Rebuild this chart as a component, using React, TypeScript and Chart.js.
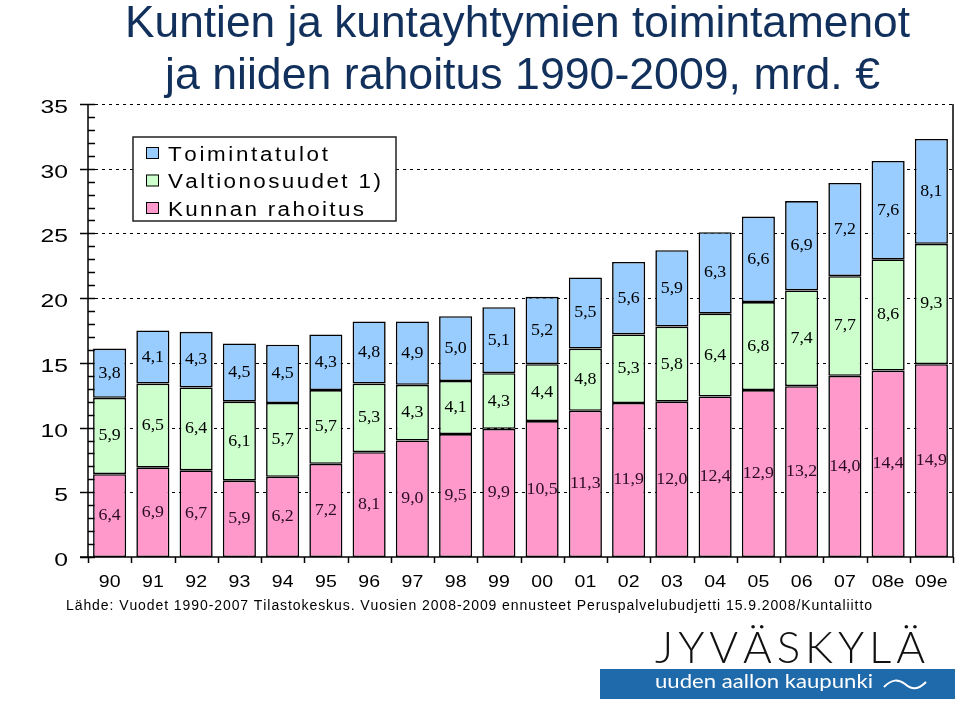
import React, { useEffect, useRef } from 'react';
import { Chart, registerables } from 'chart.js';

Chart.register(...registerables);

const categories = ['90', '91', '92', '93', '94', '95', '96', '97', '98', '99', '00', '01', '02', '03', '04', '05', '06', '07', '08e', '09e'];
const kunnanRahoitus = [6.4, 6.9, 6.7, 5.9, 6.2, 7.2, 8.1, 9.0, 9.5, 9.9, 10.5, 11.3, 11.9, 12.0, 12.4, 12.9, 13.2, 14.0, 14.4, 14.9];
const valtionosuudet = [5.9, 6.5, 6.4, 6.1, 5.7, 5.7, 5.3, 4.3, 4.1, 4.3, 4.4, 4.8, 5.3, 5.8, 6.4, 6.8, 7.4, 7.7, 8.6, 9.3];
const toimintatulot = [3.8, 4.1, 4.3, 4.5, 4.5, 4.3, 4.8, 4.9, 5.0, 5.1, 5.2, 5.5, 5.6, 5.9, 6.3, 6.6, 6.9, 7.2, 7.6, 8.1];
const seriesNames = ['Kunnan rahoitus', 'Valtionosuudet 1)', 'Toimintatulot'];
const seriesColors = ['#FF99CC', '#CCFFCC', '#99CCFF'];
const labelColors = ['#2a0b22', '#000000', '#000000'];
const titleLines = ['Kuntien ja kuntayhtymien toimintamenot', 'ja niiden rahoitus 1990-2009, mrd. €'];
const sourceNote = 'Lähde: Vuodet 1990-2007 Tilastokeskus. Vuosien 2008-2009 ennusteet Peruspalvelubudjetti 15.9.2008/Kuntaliitto';
const logoName = 'JYVÄSKYLÄ';
const logoSlogan = 'uuden aallon kaupunki';
const yMin = 0;
const yMax = 35;
const yStep = 5;

const SANS = "'Liberation Sans', Arial, sans-serif";
const SERIF = "'Liberation Serif', 'Times New Roman', serif";

function fmt(v: number) {
  return v.toFixed(1).replace('.', ',');
}

function drawText(ctx: CanvasRenderingContext2D, s: string, x: number, y: number, align: CanvasTextAlign, sx: number) {
  ctx.save();
  ctx.translate(x, y);
  ctx.scale(sx, 1);
  ctx.textAlign = align;
  ctx.fillText(s, 0, 0);
  ctx.restore();
}

function drawFit(ctx: CanvasRenderingContext2D, s: string, x: number, y: number, width: number) {
  const w = ctx.measureText(s).width;
  drawText(ctx, s, x, y, 'left', width / w);
}

function drawSpaced(ctx: CanvasRenderingContext2D, s: string, x: number, y: number, width: number) {
  const chars = s.split('');
  const total = chars.reduce((acc, ch) => acc + ctx.measureText(ch).width, 0);
  const gap = (width - total) / (chars.length - 1);
  let cx = x;
  chars.forEach((ch) => {
    ctx.fillText(ch, cx, y);
    cx += ctx.measureText(ch).width + gap;
  });
}

const decor = {
  id: 'decor',
  beforeDatasetsDraw(chart: any) {
    const { ctx, chartArea: a, scales } = chart;
    const y = scales.y;
    const x = scales.x;
    ctx.save();
    ctx.strokeStyle = '#000';
    ctx.lineWidth = 1;
    ctx.setLineDash([3, 4]);
    y.ticks.forEach((t: any) => {
      if (t.value <= yMin) return;
      const py = Math.round(y.getPixelForValue(t.value)) + 0.5;
      ctx.beginPath();
      ctx.moveTo(a.left, py);
      ctx.lineTo(a.right, py);
      ctx.stroke();
    });
    ctx.setLineDash([]);
    ctx.lineWidth = 1.5;
    for (let v = yMin; v <= yMax; v += 1) {
      const py = Math.round(y.getPixelForValue(v)) + 0.5;
      const major = v % yStep === 0;
      ctx.beginPath();
      ctx.moveTo(major ? a.left - 8 : a.left, py);
      ctx.lineTo(a.left + 7, py);
      ctx.stroke();
    }
    ctx.beginPath();
    ctx.moveTo(a.left, a.top);
    ctx.lineTo(a.left, a.bottom);
    ctx.stroke();
    ctx.beginPath();
    ctx.moveTo(a.left - 8, a.bottom);
    ctx.lineTo(a.right, a.bottom);
    ctx.stroke();
    const cw = x.getPixelForValue(1) - x.getPixelForValue(0);
    for (let i = 0; i <= categories.length; i++) {
      const px = Math.round(x.getPixelForValue(i) - cw / 2) + 0.5;
      ctx.beginPath();
      ctx.moveTo(px, a.bottom);
      ctx.lineTo(px, a.bottom + 6);
      ctx.stroke();
    }
    ctx.restore();
  },
  afterDatasetsDraw(chart: any) {
    const { ctx, chartArea: a } = chart;
    ctx.save();
    ctx.strokeStyle = '#000';
    ctx.lineWidth = 1.5;
    ctx.beginPath();
    ctx.moveTo(a.right, a.top);
    ctx.lineTo(a.right, a.bottom);
    ctx.stroke();
    ctx.font = `17px ${SERIF}`;
    ctx.textBaseline = 'middle';
    chart.data.datasets.forEach((ds: any, di: number) => {
      const meta = chart.getDatasetMeta(di);
      ctx.fillStyle = labelColors[di];
      meta.data.forEach((el: any, i: number) => {
        const cy = (el.y + el.base) / 2;
        drawText(ctx, fmt(ds.data[i]), el.x, cy, 'center', 1.05);
      });
    });
    const lx = 133, ly = 137, lw = 263, lh = 84;
    ctx.fillStyle = '#fff';
    ctx.fillRect(lx, ly, lw, lh);
    ctx.strokeStyle = '#222';
    ctx.lineWidth = 1.5;
    ctx.strokeRect(lx, ly, lw, lh);
    ctx.font = `20px ${SANS}`;
    ctx.textBaseline = 'alphabetic';
    const sx = 1.12;
    const order = [2, 1, 0];
    const widths = [161, 214, 197];
    order.forEach((di, row) => {
      const cy = 153 + row * 27.5;
      ctx.fillStyle = seriesColors[di];
      ctx.fillRect(146, cy - 6, 13, 12);
      ctx.strokeStyle = '#000';
      ctx.lineWidth = 1;
      ctx.strokeRect(146.5, cy - 5.5, 12, 11);
      ctx.fillStyle = '#000';
      ctx.save();
      ctx.translate(168, cy + 7.5);
      ctx.scale(sx, 1);
      drawSpaced(ctx, seriesNames[di], 0, 0, widths[row] / sx - 1);
      ctx.restore();
    });
    ctx.restore();
  },
  afterDraw(chart: any) {
    const { ctx, chartArea: a, scales } = chart;
    const y = scales.y;
    const x = scales.x;
    ctx.save();
    ctx.fillStyle = '#000';
    ctx.font = `19px ${SANS}`;
    ctx.textBaseline = 'alphabetic';
    y.ticks.forEach((t: any) => {
      const py = y.getPixelForValue(t.value);
      drawText(ctx, String(t.value), 68, py + 9, 'right', 1.3);
    });
    ctx.font = `16px ${SANS}`;
    categories.forEach((c, i) => {
      drawText(ctx, c, x.getPixelForValue(i), a.bottom + 30, 'center', 1.22);
    });
    ctx.fillStyle = '#11305c';
    ctx.font = `44px 'Liberation Sans Narrow', ${SANS}`;
    drawFit(ctx, titleLines[0], 125, 37, 785);
    drawFit(ctx, titleLines[1], 165, 89, 715);
    ctx.fillStyle = '#000';
    ctx.font = `14px ${SANS}`;
    drawSpaced(ctx, sourceNote, 66, 610, 806);
    ctx.font = `300 44px Lato, Inter, ${SANS}`;
    ctx.fillStyle = '#111';
    drawSpaced(ctx, logoName, 655, 663, 270);
    ctx.fillStyle = '#1f6aab';
    ctx.fillRect(600, 669, 355, 30);
    ctx.fillStyle = '#fff';
    ctx.font = `20px Lato, ${SANS}`;
    drawFit(ctx, logoSlogan, 655, 688, 218);
    ctx.strokeStyle = '#fff';
    ctx.lineWidth = 2;
    ctx.beginPath();
    ctx.moveTo(884, 687);
    ctx.bezierCurveTo(892, 679, 898, 679, 905, 684);
    ctx.bezierCurveTo(912, 690, 918, 690, 926, 682);
    ctx.stroke();
    ctx.restore();
  },
};

export default function App() {
  const ref = useRef<HTMLCanvasElement | null>(null);
  useEffect(() => {
    if (!ref.current) return;
    const values = [kunnanRahoitus, valtionosuudet, toimintatulot];
    const chart = new Chart(ref.current, {
      type: 'bar',
      data: {
        labels: categories,
        datasets: values.map((d, i) => ({
          label: seriesNames[i],
          data: d,
          backgroundColor: seriesColors[i],
          borderColor: '#000',
          borderWidth: 1.6,
          borderSkipped: false,
          barPercentage: 0.765,
          categoryPercentage: 1,
        })),
      },
      options: {
        responsive: false,
        animation: false,
        layout: { padding: { top: 104, right: 7, left: 0, bottom: 0 } },
        plugins: {
          legend: { display: false },
          title: { display: false },
          tooltip: { enabled: false },
        },
        scales: {
          x: {
            stacked: true,
            grid: { display: false, drawTicks: false },
            border: { display: false },
            ticks: { display: false },
            afterFit: (s: any) => { s.height = 147; },
          },
          y: {
            stacked: true,
            min: yMin,
            max: yMax,
            grid: { display: false, drawTicks: false },
            border: { display: false },
            ticks: { display: false, stepSize: yStep },
            afterFit: (s: any) => { s.width = 88; },
          },
        },
      },
      plugins: [decor],
    });
    return () => chart.destroy();
  }, []);
  return (
    <div style={{ position: 'fixed', left: 0, top: 0, width: 960, height: 704, background: '#fff' }}>
      <canvas ref={ref} width={960} height={704} style={{ display: 'block' }} />
    </div>
  );
}
